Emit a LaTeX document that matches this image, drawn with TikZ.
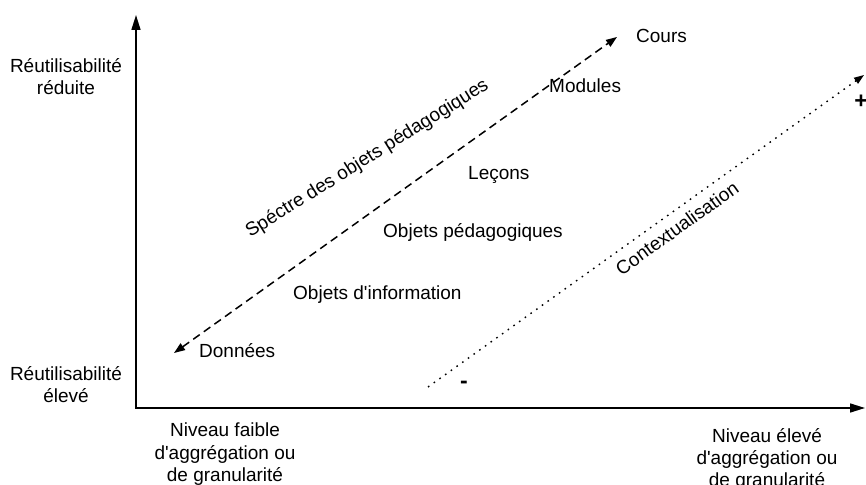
\documentclass[tikz,border=0pt]{standalone}
\usepackage{fontspec}
\setmainfont{Liberation Sans}
\usepackage{tikz}
\usetikzlibrary{arrows.meta}
\usetikzlibrary{positioning}

\tikzset{
  axis/.style={line width=1.6pt, {Triangle[length=15pt,width=9pt]}-{Triangle[length=15pt,width=9pt]}},
  spectre/.style={line width=1.5pt, dash pattern=on 8pt off 5pt,
    {Triangle[length=11pt,width=8pt]}-{Triangle[length=11pt,width=8pt]}},
  contexte/.style={line width=1.4pt, dash pattern=on 1.6pt off 5.4pt,
    -{Triangle[length=10pt,width=7pt]}},
  lbl/.style={inner sep=0pt, font=\fontsize{19}{22}\selectfont},
  signe/.style={inner sep=0pt, font=\fontsize{23}{23}\selectfont\bfseries},
}

\begin{document}
\begin{tikzpicture}[x=1pt, y=1pt] % Granularite des objets pedagogiques

      \useasboundingbox (0, 0) rectangle (866, 484);

      \coordinate (O) at (136, 76);
      \coordinate (ymax) at (136, 469);
      \coordinate (xmax) at (865, 76);
      \draw [axis] (ymax) -- (O) -- (xmax);

      \node [lbl, align=center, anchor=base] (reduite) at (66, 389)
        {Réutilisabilité\\réduite};
      \node [lbl, align=center, anchor=base] (eleve) at (66, 81)
        {Réutilisabilité\\élevé};
      \node [lbl, align=center, anchor=base] (faible) at (225, 3)
        {Niveau faible\\d\textquotesingle aggrégation ou\\de granularité};
      \node [lbl, align=center, anchor=base] (fort) at (767, -2)
        {Niveau élevé\\d\textquotesingle aggrégation ou\\de granularité};

      \coordinate (s1) at (174, 131);
      \coordinate (s2) at (617, 447);
      \draw [spectre] (s1) -- (s2);
      \node [lbl, anchor=base, rotate=32] (spec) at (370, 321)
        {Spéctre des objets pédagogiques};

      \node [lbl, anchor=base west] (cours) at (636, 441) {Cours};
      \node [lbl, anchor=base west] (modules) at (549, 391) {Modules};
      \node [lbl, anchor=base west] (lecons) at (468, 304) {Leçons};
      \node [lbl, anchor=base west] (objped) at (383, 246) {Objets pédagogiques};
      \node [lbl, anchor=base west] (objinfo) at (293, 184) {Objets d\textquotesingle information};
      \node [lbl, anchor=base west] (donnees) at (199, 126) {Données};

      \coordinate (c1) at (428, 97);
      \coordinate (c2) at (864, 409);
      \draw [contexte] (c1) -- (c2)
        node [lbl, pos=0.55, sloped, below=8pt] (ctx) {Contextualisation};

      \node [signe] (plus) at (861, 382) {+};
      \node [signe] (moins) at (464, 99) {-};

    \end{tikzpicture}
\end{document}
